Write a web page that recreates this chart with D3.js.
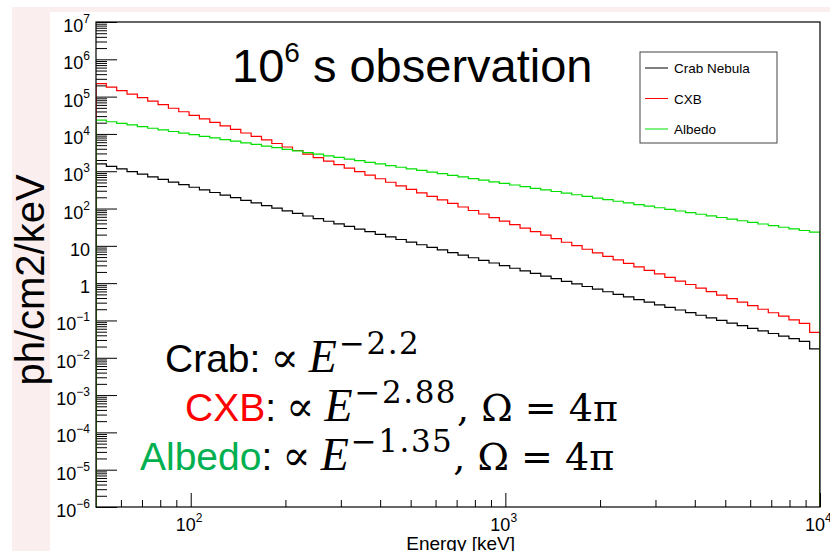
<!DOCTYPE html>
<html>
<head>
<meta charset="utf-8">
<script src="https://cdn.jsdelivr.net/npm/d3@7/dist/d3.min.js"></script>
<style>
  html, body { margin: 0; padding: 0; background: #ffffff; }
  svg { display: block; }
  text { font-family: "Liberation Sans", Arial, sans-serif; }
</style>
</head>
<body>
<svg id="chart" width="830" height="551"></svg>
<script>
// ---- histogram binning (log-uniform, 70 bins from 50 keV to 10 MeV) ----
const eMin = 50;
const eMax = 10000;
const binCount = 70;

// ---- spectra per bin, ph/cm2/keV for a 1e6 s observation ----
const crabNebula = [1580,1350,1150,977,832,708,603,513,437,372,316,269,229,195,166,141,120,102,87.1,74.1,
  63.1,53.7,45.7,38.9,33.1,28.2,24.0,20.4,17.4,14.8,12.6,10.7,9.12,7.76,6.61,5.62,4.79,4.07,3.47,2.95,
  2.51,2.14,1.82,1.55,1.32,1.12,0.955,0.813,0.692,0.589,0.501,0.427,0.363,0.309,0.263,0.224,0.191,0.162,0.138,0.117,
  0.100,0.0851,0.0724,0.0617,0.0525,0.0447,0.0380,0.0324,0.0275,0.0174];
const cxb = [224000,180000,145000,117000,93800,75400,60700,48800,39300,31600,25400,20400,16400,13200,10600,8560,6890,5540,4460,3590,
  2880,2320,1870,1500,1210,972,782,629,506,407,327,263,212,170,137,110,88.7,71.4,57.4,46.2,
  37.2,29.9,24.0,19.3,15.6,12.5,10.1,8.10,6.52,5.24,4.22,3.39,2.73,2.20,1.77,1.42,1.14,0.919,0.740,0.595,
  0.479,0.385,0.310,0.249,0.200,0.161,0.130,0.104,0.0839,0.0479];
const albedo = [23400,21200,19200,17400,15700,14200,12900,11600,10500,9520,8610,7790,7050,6380,5770,5220,4720,4270,3860,3500,
  3160,2860,2590,2340,2120,1920,1730,1570,1420,1280,1160,1050,951,860,778,704,637,576,521,472,
  427,386,349,316,286,259,234,212,191,173,157,142,128,116,105,95.0,85.9,77.7,70.3,63.6,
  57.5,52.1,47.1,42.6,38.5,34.9,31.5,28.5,25.8,23.4];

const seriesNames = ["Crab Nebula", "CXB", "Albedo"];
const seriesColors = ["#000000", "#ff0000", "#00e000"];

// ---- axis ticks ----
const xMajorTicks = [100, 1000, 10000];
const xTickLabels = [["10", "2"], ["10", "3"], ["10", "4"]];
const yMajorTicks = [1e-6, 1e-5, 1e-4, 1e-3, 1e-2, 1e-1, 1, 10, 1e2, 1e3, 1e4, 1e5, 1e6, 1e7];
const yTickLabels = [["10","\u22126"],["10","\u22125"],["10","\u22124"],["10","\u22123"],["10","\u22122"],["10","\u22121"],
  ["1",""],["10",""],["10","2"],["10","3"],["10","4"],["10","5"],["10","6"],["10","7"]];

// ---- annotation lines ----
const annotations = [
  { name: "Crab",   color: "#000000", x: 165, y: 372, exp: "\u22122.2",  solid: false },
  { name: "CXB",    color: "#ff0000", x: 185, y: 421, exp: "\u22122.88", solid: true },
  { name: "Albedo", color: "#00b050", x: 140, y: 470, exp: "\u22121.35", solid: true }
];

const svg = d3.select("#chart");
const W = 830, H = 551;
const plot = { left: 96, right: 820, top: 22, bottom: 507 };

// page background: pink margin with white panel
svg.append("rect").attr("x", 12).attr("y", 7).attr("width", W - 12).attr("height", H - 7).attr("fill", "#fbeeee");
svg.append("rect").attr("x", 50).attr("y", 12).attr("width", W - 50).attr("height", H - 12).attr("fill", "#ffffff");

const x = d3.scaleLog().domain([eMin, eMax]).range([plot.left, plot.right]);
const y = d3.scaleLog().domain([1e-6, 1e7]).range([plot.bottom, plot.top]);

const edges = d3.range(binCount + 1).map(i => eMin * Math.pow(eMax / eMin, i / binCount));

// minor ticks: 2..9 times each decade
function minorTicks(lo, hi) {
  const out = [];
  for (let e = Math.floor(Math.log10(lo)); e <= Math.ceil(Math.log10(hi)); e++) {
    for (let m = 2; m <= 9; m++) {
      const v = m * Math.pow(10, e);
      if (v > lo && v < hi) out.push(v);
    }
  }
  return out;
}

svg.append("defs").append("clipPath").attr("id", "plotClip")
  .append("rect").attr("x", plot.left).attr("y", plot.top)
  .attr("width", plot.right - plot.left).attr("height", plot.bottom - plot.top);

// ---- ticks (pointing into the frame) ----
const yAxisMajor = d3.axisRight(y).tickValues(yMajorTicks).tickSize(21).tickFormat("");
const yAxisMinor = d3.axisRight(y).tickValues(minorTicks(1e-6, 1e7)).tickSize(11).tickFormat("");
const xAxisMajor = d3.axisTop(x).tickValues(xMajorTicks).tickSize(14).tickFormat("");
const xAxisMinor = d3.axisTop(x).tickValues(minorTicks(eMin, eMax)).tickSize(7).tickFormat("");

[yAxisMajor, yAxisMinor].forEach(a => {
  const g = svg.append("g").attr("transform", `translate(${plot.left},0)`).call(a);
  g.select(".domain").remove();
  g.selectAll("line").attr("stroke", "#000").attr("stroke-width", 1);
});
[xAxisMajor, xAxisMinor].forEach(a => {
  const g = svg.append("g").attr("transform", `translate(0,${plot.bottom})`).call(a);
  g.select(".domain").remove();
  g.selectAll("line").attr("stroke", "#000").attr("stroke-width", 1);
});

// ---- histograms ----
const line = d3.line();
const histGroup = svg.append("g").attr("clip-path", "url(#plotClip)");
[crabNebula, cxb, albedo].forEach((vals, k) => {
  const pts = [[x(edges[0]), y(1e-6)]];
  vals.forEach((v, i) => {
    pts.push([x(edges[i]), y(v)]);
    pts.push([x(edges[i + 1]), y(v)]);
  });
  pts.push([x(edges[binCount]), y(1e-6)]);
  histGroup.append("path").attr("d", line(pts))
    .attr("fill", "none").attr("stroke", seriesColors[k]).attr("stroke-width", 1.2);
});

// ---- frame ----
svg.append("rect").attr("x", plot.left).attr("y", plot.top)
  .attr("width", plot.right - plot.left).attr("height", plot.bottom - plot.top)
  .attr("fill", "none").attr("stroke", "#000").attr("stroke-width", 1.2);

// ---- tick labels ----
const yLab = svg.append("g").attr("font-size", 18).attr("fill", "#000");
yMajorTicks.forEach((v, i) => {
  const [base, sup] = yTickLabels[i];
  const t = yLab.append("text").attr("x", 90).attr("y", y(v) + 10).attr("text-anchor", "end");
  t.append("tspan").text(base);
  if (sup) t.append("tspan").attr("font-size", 12).attr("dy", -9).text(sup);
});

const xLab = svg.append("g").attr("font-size", 18).attr("fill", "#000");
xMajorTicks.forEach((v, i) => {
  const [base, sup] = xTickLabels[i];
  const t = xLab.append("text").attr("x", x(v) - 15).attr("y", 531);
  t.append("tspan").text(base);
  t.append("tspan").attr("font-size", 12).attr("dy", -9).text(sup);
});

// ---- axis titles ----
svg.append("text").attr("x", 515).attr("y", 550).attr("text-anchor", "end")
  .attr("font-size", 19).text("Energy [keV]");
svg.append("text").attr("transform", "translate(44,280) rotate(-90)")
  .attr("text-anchor", "middle").attr("font-size", 40).text("ph/cm2/keV");

// ---- title ----
const title = svg.append("text").attr("x", 232).attr("y", 82).attr("font-size", 47);
title.append("tspan").text("10");
title.append("tspan").attr("font-size", 28).attr("dy", -20).text("6");
title.append("tspan").attr("dy", 20).text(" s observation");

// ---- legend ----
const leg = svg.append("g");
leg.append("rect").attr("x", 640).attr("y", 52).attr("width", 137).attr("height", 91)
  .attr("fill", "#fff").attr("stroke", "#444").attr("stroke-width", 1);
seriesNames.forEach((n, i) => {
  const ly = 68 + i * 30.5;
  leg.append("line").attr("x1", 645).attr("x2", 668).attr("y1", ly).attr("y2", ly)
    .attr("stroke", seriesColors[i]).attr("stroke-width", 1);
  leg.append("text").attr("x", 674).attr("y", ly + 5).attr("font-size", 13.5).text(n);
});

// ---- power-law annotations ----
annotations.forEach(a => {
  const t = svg.append("text").attr("x", a.x).attr("y", a.y).attr("font-size", 39);
  t.append("tspan").attr("fill", a.color).text(a.name);
  t.append("tspan").text(":");
  t.append("tspan").attr("dx", 10).attr("font-family", "DejaVu Serif").attr("font-size", 42).text("\u221D");
  t.append("tspan").attr("dx", 10).attr("font-family", "Liberation Serif").attr("font-style", "italic")
    .attr("font-size", 46).text("E");
  t.append("tspan").attr("dx", 2).attr("font-family", "DejaVu Serif").attr("font-size", 31)
    .attr("letter-spacing", 1.5).attr("dy", -18).text(a.exp);
  if (a.solid) {
    t.append("tspan").attr("font-family", "DejaVu Serif").attr("font-size", 38).attr("dy", 18).text(", \u03A9 = 4\u03C0");
  }
});
</script>
</body>
</html>
